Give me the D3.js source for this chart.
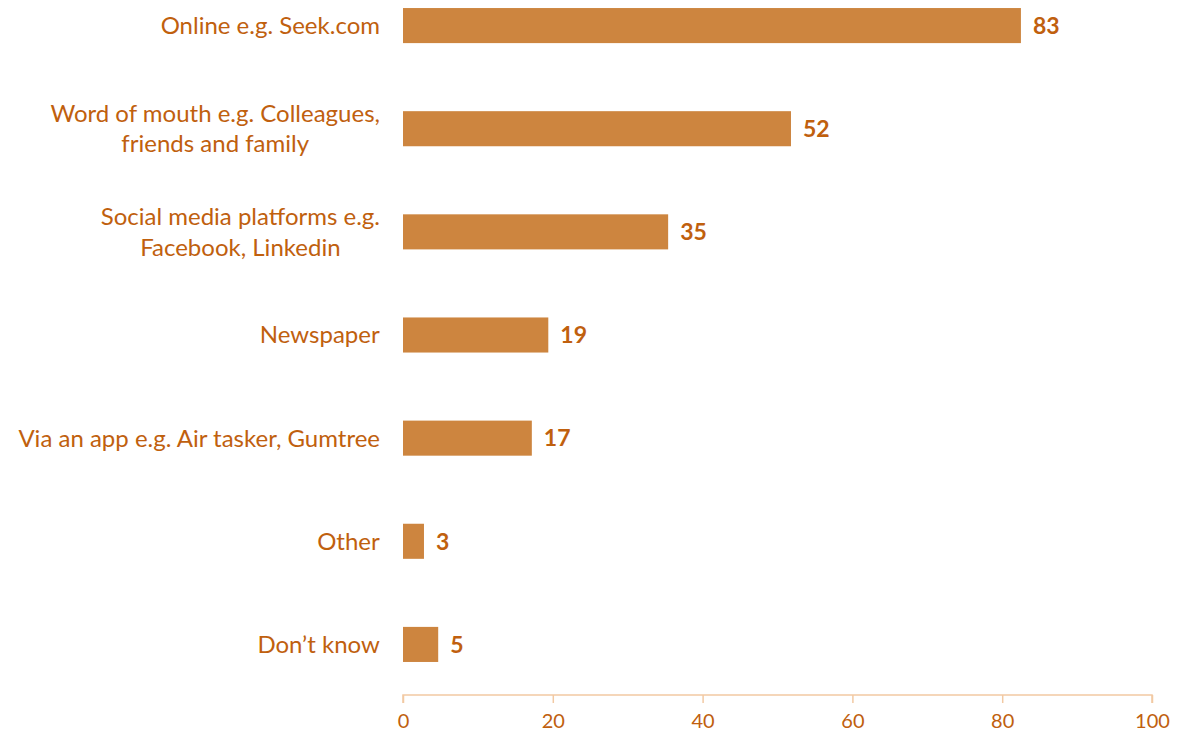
<!DOCTYPE html>
<html>
<head>
<meta charset="utf-8">
<script src="https://cdn.jsdelivr.net/npm/d3@7"></script>
<style>
  body { margin: 0; background: #fff; }
  svg { display: block; font-family: Lato, "Open Sans", sans-serif; }
  .cat-label { fill: #c0600e; font-size: 24px; }
  .val-label { fill: #c0600e; font-size: 23px; font-weight: 700; }
  .x-axis text { fill: #c0600e; font-size: 20px; font-family: Lato, sans-serif; }
  .x-axis path, .x-axis line { stroke: #f2c9a3; stroke-width: 1.5; }
</style>
</head>
<body>
<div id="chart"></div>
<script>
const WIDTH = 1186;
const HEIGHT = 734;

// categories, top to bottom (lines split where the original wraps)
const categories = [
  ["Online e.g. Seek.com"],
  ["Word of mouth e.g. Colleagues,", "friends and family"],
  ["Social media platforms e.g.", "Facebook, Linkedin"],
  ["Newspaper"],
  ["Via an app e.g. Air tasker, Gumtree"],
  ["Other"],
  ["Don\u2019t know"],
];
const values = [82.5, 51.8, 35.4, 19.4, 17.2, 2.8, 4.7];
const valueLabels = ["83", "52", "35", "19", "17", "3", "5"];
const xTicks = [0, 20, 40, 60, 80, 100];

const data = categories.map((lines, i) => ({ id: i, lines, value: values[i], label: valueLabels[i] }));

const svg = d3.select("#chart").append("svg").attr("width", WIDTH).attr("height", HEIGHT);

const x = d3.scaleLinear().domain([0, 100]).range([403, 1152]);
const y = d3.scaleBand()
  .domain(data.map((d) => d.id))
  .range([-26, 696])
  .paddingInner(0.66)
  .paddingOuter(0.33);

svg.append("g")
  .attr("class", "x-axis")
  .attr("transform", "translate(0,695)")
  .call(d3.axisBottom(x).tickValues(xTicks).tickSize(8).tickSizeOuter(8).tickPadding(11))
  .call((g) => g.select(".domain").attr("d", `M${x(0)},8V0H${x(100)}V8`));

svg.append("g")
  .selectAll("rect")
  .data(data)
  .join("rect")
  .attr("x", x(0))
  .attr("y", (d) => y(d.id))
  .attr("width", (d) => x(d.value) - x(0))
  .attr("height", y.bandwidth())
  .attr("fill", "#cd853f");

svg.append("g")
  .selectAll("text")
  .data(data)
  .join("text")
  .attr("class", "val-label")
  .attr("x", (d) => x(d.value) + 12)
  .attr("y", (d) => y(d.id) + y.bandwidth() / 2)
  .attr("dy", "0.36em")
  .text((d) => d.label);

const catText = svg.append("g")
  .selectAll("text")
  .data(data)
  .join("text")
  .attr("class", "cat-label")
  .attr("text-anchor", "middle")
  .attr("y", (d) => y(d.id) + y.bandwidth() / 2);

catText.each(function (d) {
  const t = d3.select(this);
  const n = d.lines.length;
  d.lines.forEach((line, j) => {
    t.append("tspan")
      .attr("x", 0)
      .attr("dy", j === 0 ? `${0.35 - (n - 1) * 0.64}em` : "1.28em")
      .text(line);
  });
});

// right-align the block to 380 while centring wrapped lines within it
catText.each(function () {
  const box = this.getBBox();
  const shift = 380 - (box.x + box.width);
  d3.select(this).selectAll("tspan").attr("x", shift);
});
</script>
</body>
</html>
